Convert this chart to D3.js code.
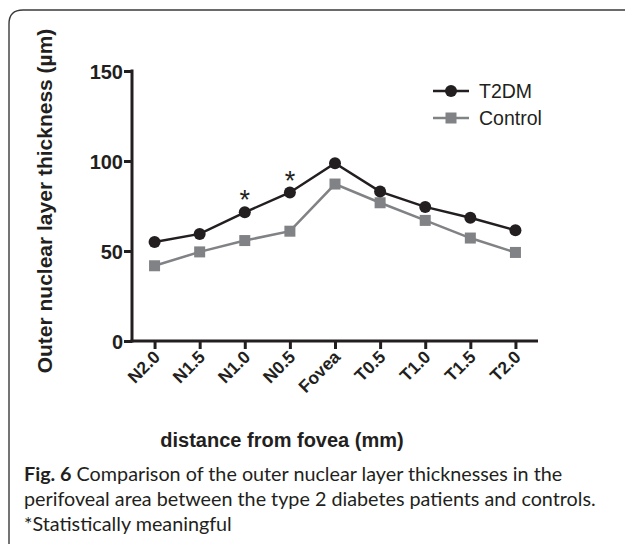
<!DOCTYPE html>
<html><head><meta charset="utf-8">
<script src="https://cdn.jsdelivr.net/npm/d3@7"></script>
<style>
html,body{margin:0;padding:0;background:#fff;}
svg{display:block;}
</style></head>
<body>
<svg id="c" width="625" height="544"></svg>
<script>
const categories = ["N2.0","N1.5","N1.0","N0.5","Fovea","T0.5","T1.0","T1.5","T2.0"];
const t2dmValues = [55, 59.5, 71.5, 82.5, 98.8, 83, 74.5, 68.5, 61.5];
const controlValues = [41.8, 49.5, 55.8, 61, 87.2, 76.8, 67, 57.2, 49.2];
const significant = ["N1.0","N0.5"];
const yTicks = [0, 50, 100, 150];
const seriesNames = ["T2DM","Control"];
const captionBold = "Fig. 6";
const captionLines = [
  " Comparison of the outer nuclear layer thicknesses in the",
  "perifoveal area between the type 2 diabetes patients and controls.",
  "*Statistically meaningful"
];

const svg = d3.select("#c");
const dark = "#231f20", grey = "#808285";
const axisFont = "Liberation Sans, Arial, Helvetica, sans-serif";

// frame
svg.append("path")
  .attr("d", "M9,560 L9,24 Q9,10 23,10 L640,10")
  .attr("fill","none").attr("stroke","#3a3a3a").attr("stroke-width",1.4);

const x = d3.scalePoint().domain(categories).range([132, 538]).padding(0.5);
const y = d3.scaleLinear().domain([0,150]).range([341, 71]);

// y axis
const gy = svg.append("g").attr("transform","translate(132,0)")
  .call(d3.axisLeft(y).tickValues(yTicks).tickSize(8).tickPadding(1).tickSizeOuter(0));
// x axis
const gx = svg.append("g").attr("transform","translate(0,341)")
  .call(d3.axisBottom(x).tickSize(8).tickSizeOuter(0));
[gx, gy].forEach(g => {
  g.select(".domain").attr("stroke", dark).attr("stroke-width", 3);
  g.selectAll(".tick line").attr("stroke", dark).attr("stroke-width", 3);
  g.selectAll("text").attr("fill", dark).attr("font-family", axisFont).attr("font-weight","bold");
});
gy.select(".domain").attr("d", `M0,${y(150)-1.5}V${y(0)+1.5}`);
gx.select(".domain").attr("d", `M${132-1.5},0H538`);
gy.selectAll("text").attr("font-size", 20).attr("dy","0.36em");
gx.selectAll("text").attr("font-size", 17.5)
  .attr("text-anchor","end").attr("dy", null).attr("y", 0)
  .attr("transform","translate(6,17) rotate(-45)");

// lines
const line = d3.line().x((d,i)=>x(categories[i])).y(d=>y(d));
svg.append("path").datum(controlValues).attr("d", line)
  .attr("fill","none").attr("stroke",grey).attr("stroke-width",2.5);
svg.append("path").datum(t2dmValues).attr("d", line)
  .attr("fill","none").attr("stroke",dark).attr("stroke-width",2.5);
svg.selectAll(".sq").data(controlValues).join("rect").attr("class","sq")
  .attr("x",(d,i)=>x(categories[i])-5.5).attr("y",d=>y(d)-5.5)
  .attr("width",11).attr("height",11).attr("fill",grey);
svg.selectAll(".ci").data(t2dmValues).join("circle").attr("class","ci")
  .attr("cx",(d,i)=>x(categories[i])).attr("cy",d=>y(d)).attr("r",6).attr("fill",dark);

// asterisks
svg.selectAll(".ast").data(significant).join("text").attr("class","ast")
  .attr("x", c=>x(c)).attr("y", c=>y(t2dmValues[categories.indexOf(c)]) - 3)
  .attr("text-anchor","middle").attr("font-family",axisFont).attr("font-size",27)
  .attr("fill",dark).text("*");

// axis titles
svg.append("text").attr("transform","translate(52,201) rotate(-90)")
  .attr("text-anchor","middle").attr("font-family",axisFont).attr("font-weight","bold")
  .attr("font-size",21).attr("fill",dark).text("Outer nuclear layer thickness (µm)");
svg.append("text").attr("x",282).attr("y",447)
  .attr("text-anchor","middle").attr("font-family",axisFont).attr("font-weight","bold")
  .attr("font-size",20).attr("fill",dark).text("distance from fovea (mm)");

// legend
const lg = svg.append("g").attr("transform","translate(433,91)");
seriesNames.forEach((name,i)=>{
  const g = lg.append("g").attr("transform",`translate(0,${i*27})`);
  const col = i===0?dark:grey;
  g.append("line").attr("x1",0).attr("x2",36).attr("stroke",col).attr("stroke-width",2.5);
  if(i===0) g.append("circle").attr("cx",18).attr("r",6).attr("fill",col);
  else g.append("rect").attr("x",12.5).attr("y",-5.5).attr("width",11).attr("height",11).attr("fill",col);
  g.append("text").attr("x",46).attr("y",0).attr("dy","0.35em")
    .attr("font-family",axisFont).attr("font-size",19.5).attr("fill",dark).text(name);
});

// caption
const capFont = "Lato, 'Open Sans', sans-serif";
const cap = svg.append("g").attr("font-family",capFont).attr("font-size",18).attr("fill","#231f20");
const t0 = cap.append("text").attr("x",24).attr("y",481);
t0.append("tspan").attr("font-weight","bold").text(captionBold);
t0.append("tspan").text(captionLines[0]);
const l2 = cap.append("text").attr("x",24).attr("y",506).text(captionLines[1]);
cap.append("text").attr("x",24).attr("y",531).text(captionLines[2]);
// fit caption size so the second line spans the column width
const w2 = l2.node().getComputedTextLength();
if (w2 > 0) cap.attr("font-size", 18 * 572 / w2);
</script>
</body></html>
